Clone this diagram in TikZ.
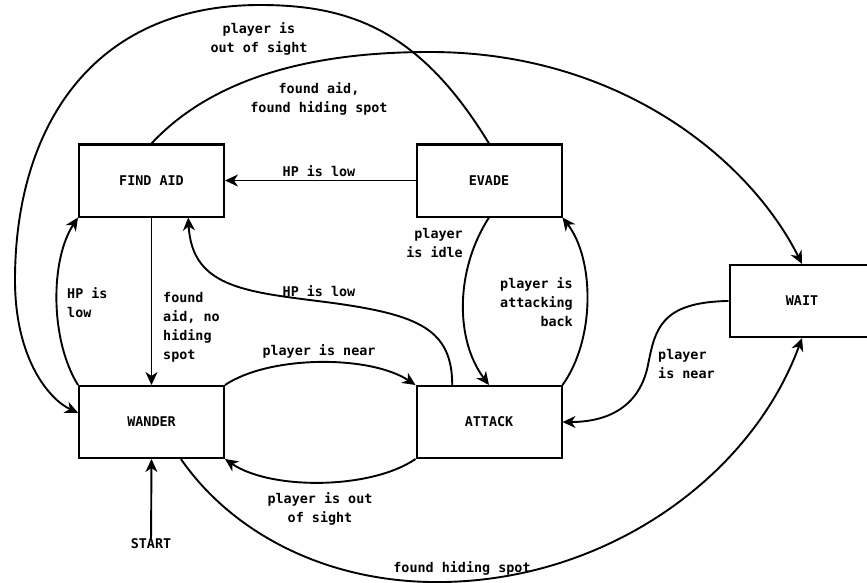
\documentclass[tikz,border=0pt]{standalone}
\usepackage{fontspec}
\setmonofont{DejaVu Sans Mono}
\usetikzlibrary{arrows.meta,calc}
\newcommand\lblfont{\ttfamily\bfseries\fontsize{13.4}{19}\selectfont}
\begin{document}
\begin{tikzpicture}[x=1pt,y=-1pt,
  state/.style={draw, line width=2pt, minimum width=145pt, minimum height=72pt, inner sep=0pt, font=\lblfont},
  lbl/.style={font=\lblfont, inner sep=0pt},
  conn/.style={line width=1.9pt, -{Stealth[length=13pt,width=12pt,inset=4pt]}},
  plainline/.style={line width=1.9pt}
]
\useasboundingbox (0,0) rectangle (867,583);

% states
\node[state] (findaid) at (151.5,180.5) {FIND AID};
\node[state] (evade)   at (489,180.5)   {EVADE};
\node[state] (wait)    at (802,301)     {WAIT};
\node[state] (wander)  at (151.5,422)   {WANDER};
\node[state] (attack)  at (489,422)     {ATTACK};
\node[lbl]   (start)   at (151,544)     {START};

% helper coordinates
\coordinate (wanderL)  at ($(wander.north west)!0.375!(wander.south west)$);
\coordinate (attackT)  at ($(attack.north west)!0.25!(attack.north east)$);
\coordinate (findaidB) at ($(findaid.south west)!0.75!(findaid.south east)$);
\coordinate (wanderB)  at ($(wander.south west)!0.7!(wander.south east)$);

% connectors
\draw[conn] (evade.north) .. controls (420,30) and (350,5) .. (260,5)
   .. controls (90,5) and (15,130) .. (15,280)
   .. controls (15,360) and (50,400) .. (wanderL);
\draw[conn] (findaid.north) .. controls (220,70) and (330,52) .. (430,52)
   .. controls (620,52) and (750,160) .. (wait.north);
\draw[conn] (evade.west) -- (findaid.east);
\draw[conn] (evade.south) .. controls (455,270) and (455,340) .. (attack.north);
\draw[conn] (attack.north east) .. controls (595,340) and (595,260) .. (evade.south east);
\draw[conn] (attackT) .. controls (452,330) and (420,315) .. (333,303)
   .. controls (250,292) and (192,290) .. (findaidB);
\draw[conn] (wander.north west) .. controls (50,340) and (50,260) .. (findaid.south west);
\draw[conn] (findaid.south) -- (wander.north);
\draw[conn] (wander.north east) .. controls (270,355) and (370,355) .. (attack.north west);
\draw[conn] (attack.south west) .. controls (370,490) and (270,490) .. (wander.south east);
\draw[conn] (wanderB) .. controls (230,530) and (320,580) .. (430,582)
   .. controls (600,585) and (750,480) .. (wait.south);
\draw[conn] (wait.west) .. controls (660,302) and (655,330) .. (648,365)
   .. controls (640,405) and (610,422) .. (attack.east);
\draw[conn] (start) -- (wander.south);

% labels
\node[lbl, align=center] (l1) at (259,38.5) {player is\\out of sight};
\node[lbl, align=center] (l2) at (319,98.5) {found aid,\\found hiding spot};
\node[lbl] (l3) at (319,171) {HP is low};
\node[lbl, align=right, anchor=east] (l4) at (463,243.5) {player\\is idle};
\node[lbl, align=right, anchor=east] (l5) at (573,302.5) {player is\\attacking\\back};
\node[lbl] (l6) at (319,291) {HP is low};
\node[lbl, align=left, anchor=west] (l7) at (67,302.5) {HP is\\low};
\node[lbl, align=left, anchor=west] (l8) at (163,327) {found\\aid, no\\hiding\\spot};
\node[lbl] (l9) at (319,351) {player is near};
\node[lbl, align=center] (l10) at (320,508.5) {player is out\\of sight};
\node[lbl, align=left, anchor=west] (l11) at (658,364) {player\\is near};
\node[lbl] (l12) at (462,568) {found hiding spot};
\end{tikzpicture}
\end{document}
